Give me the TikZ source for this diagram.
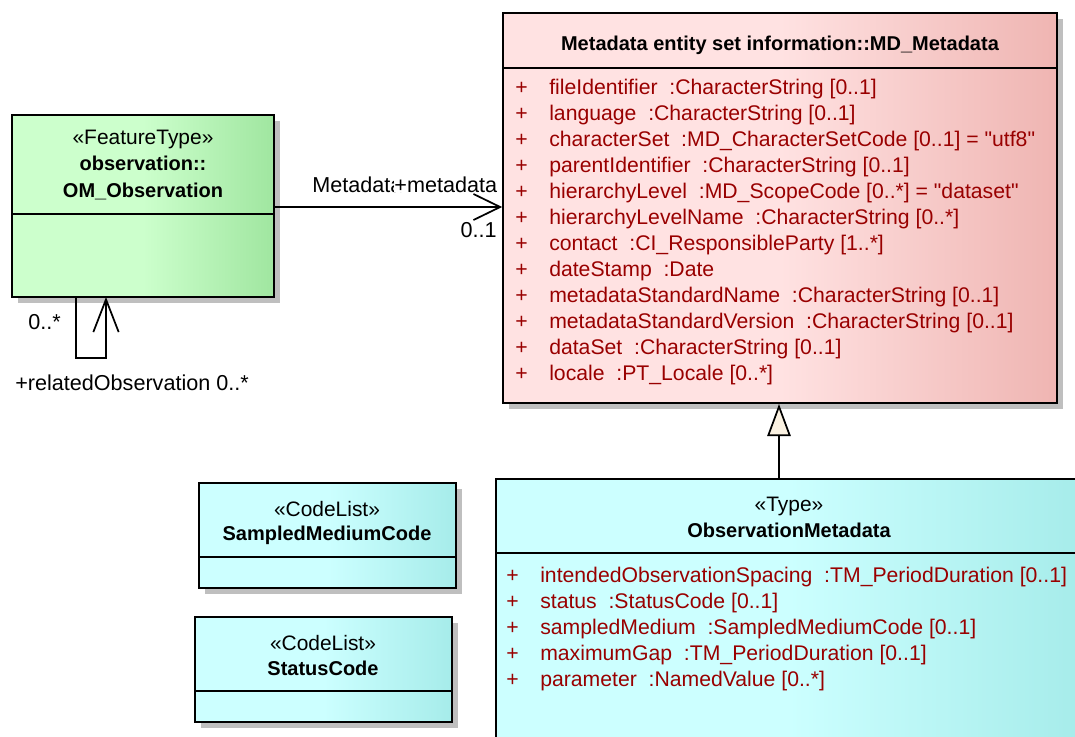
\documentclass[tikz,border=0pt]{standalone}
\usepackage{fontspec}
\setmainfont{Liberation Sans}[Ligatures=TeXOff]
\usetikzlibrary{fit,shadows,arrows.meta}
\definecolor{gL}{HTML}{CCFFCC}
\definecolor{gR}{HTML}{A0E6A0}
\definecolor{pL}{HTML}{FFE2E2}
\definecolor{pR}{HTML}{EFB5B2}
\definecolor{cL}{HTML}{CCFFFF}
\definecolor{cR}{HTML}{A6ECEA}
\definecolor{attr}{HTML}{990000}
\definecolor{tri}{HTML}{FBF2E2}
\begin{document}
\begin{tikzpicture}[x=0.75pt,y=-0.75pt,
  umlbox/.style={draw=black, line width=1.3pt, inner sep=0pt,
    drop shadow={shadow xshift=4.5pt,shadow yshift=-4.5pt,fill=black!25,opacity=1}},
  greenfill/.style={left color=gL,right color=gR,middle color=gL},
  pinkfill/.style={left color=pL,right color=pR,middle color=pL},
  cyanfill/.style={left color=cL,right color=cR,middle color=cL},
  txt/.style={inner sep=0pt, anchor=base, font=\fontsize{15.7}{18}\selectfont},
  lbl/.style={inner sep=0pt, font=\fontsize{16.2}{18}\selectfont},
  ttl/.style={inner sep=0pt, anchor=base, font=\fontsize{15}{18}\selectfont\bfseries},
  att/.style={inner sep=0pt, font=\fontsize{15.9}{18}\selectfont, text=attr, anchor=base west},
  divider/.style={line width=1.3pt},
  conn/.style={line width=1.3pt},
]
\useasboundingbox (0,0) rectangle (1075,736);
\clip (0,0) rectangle (1075,736);

% ---------- OM_Observation ----------
\node[umlbox, greenfill, fit={(12,115) (274,297)}] (obs) {};
\draw[divider] (obs.west |- 0,214) -- (obs.east |- 0,214);
\node[txt] (obsst) at (143,144) {«FeatureType»};
\node[ttl] (obsn1) at (143,170) {observation::};
\node[ttl] (obsn2) at (143,197) {OM\_Observation};

% ---------- MD_Metadata ----------
\node[umlbox, pinkfill, fit={(503,13) (1057,403)}] (md) {};
\draw[divider] (md.west |- 0,68) -- (md.east |- 0,68);
\node[ttl] (mdn) at (780,50) {Metadata entity set information::MD\_Metadata};
\foreach \t [count=\i] in {{fileIdentifier\ \ :CharacterString [0..1]},
  {language\ \ :CharacterString [0..1]},
  {characterSet\ \ :MD\_CharacterSetCode [0..1] = "utf8"},
  {parentIdentifier\ \ :CharacterString [0..1]},
  {hierarchyLevel\ \ :MD\_ScopeCode [0..*] = "dataset"},
  {hierarchyLevelName\ \ :CharacterString [0..*]},
  {contact\ \ :CI\_ResponsibleParty [1..*]},
  {dateStamp\ \ :Date},
  {metadataStandardName\ \ :CharacterString [0..1]},
  {metadataStandardVersion\ \ :CharacterString [0..1]},
  {dataSet\ \ :CharacterString [0..1]},
  {locale\ \ :PT\_Locale [0..*]}}{
  \node[att] (mdp\i) at (515,68+26*\i) {+};
  \node[att] (mda\i) at (549,68+26*\i) {\t};
}

% ---------- ObservationMetadata ----------
\node[umlbox, cyanfill, fit={(496,479) (1082,760)}] (om) {};
\draw[divider] (om.west |- 0,553) -- (om.east |- 0,553);
\node[txt] (omst) at (789,511) {«Type»};
\node[ttl] (omn) at (789,537) {ObservationMetadata};
\foreach \t [count=\i] in {{intendedObservationSpacing\ \ :TM\_PeriodDuration [0..1]},
  {status\ \ :StatusCode [0..1]},
  {sampledMedium\ \ :SampledMediumCode [0..1]},
  {maximumGap\ \ :TM\_PeriodDuration [0..1]},
  {parameter\ \ :NamedValue [0..*]}}{
  \node[att] (omp\i) at (506,556+26*\i) {+};
  \node[att] (oma\i) at (540,556+26*\i) {\t};
}

% ---------- CodeLists ----------
\node[umlbox, cyanfill, fit={(199,483) (456,588)}] (smc) {};
\draw[divider] (smc.west |- 0,557) -- (smc.east |- 0,557);
\node[txt] (smcst) at (327,516) {«CodeList»};
\node[ttl] (smcn) at (327,540) {SampledMediumCode};

\node[umlbox, cyanfill, fit={(195,617) (452,722)}] (sc) {};
\draw[divider] (sc.west |- 0,691) -- (sc.east |- 0,691);
\node[txt] (scst) at (323,650) {«CodeList»};
\node[ttl] (scn) at (323,675) {StatusCode};

% ---------- association obs -> md ----------
\coordinate (a1) at (obs.east |- 0,207);
\coordinate (a2) at (md.west |- 0,207);
\draw[conn, -{Straight Barb[length=20pt,width=19.5pt]}] (a1) -- (a2);
\node[lbl, anchor=base west] (lblname) at (312,192) {Metadata};
\node[lbl, anchor=base east, fill=white, inner xsep=0.5pt] (lblrole) at (498,192) {+metadata};
\node[lbl, anchor=base east] (lblmult) at (497,237) {0..1};

% ---------- self association ----------
\coordinate (s1) at (76,297);
\coordinate (s2) at (106,297);
\coordinate (s3) at (76,358);
\coordinate (s4) at (106,358);
\draw[conn, -{Straight Barb[length=24.5pt,width=19pt]}] (s1) -- (s3) -- (s4) -- (s2);
\node[lbl, anchor=base west] (selfm) at (28,329) {0..*};
\node[lbl, anchor=base west] (selfr) at (15,390) {+relatedObservation 0..*};

% ---------- generalization ----------
\coordinate (g1) at (779,479);
\coordinate (g2) at (779,404);
\draw[conn, -{Triangle[length=24pt,width=17.5pt,fill=tri]}] (g1) -- (g2);
\end{tikzpicture}
\end{document}
